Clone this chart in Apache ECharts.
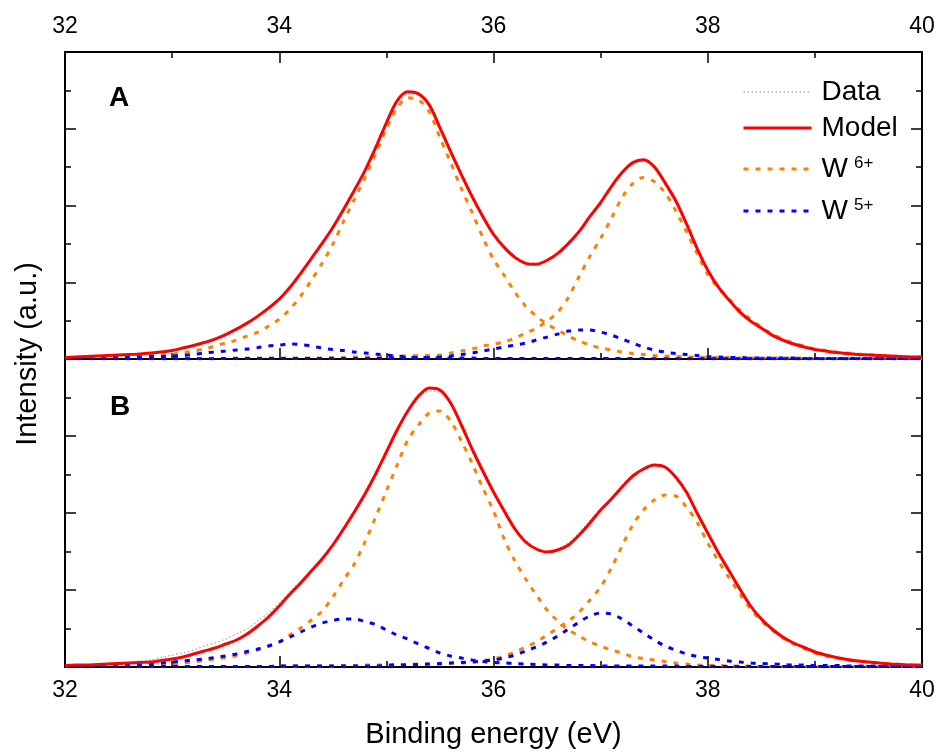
<!DOCTYPE html>
<html>
<head>
<meta charset="utf-8">
<script src="https://cdn.jsdelivr.net/npm/echarts@6/dist/echarts.min.js"></script>
<style>
html,body{margin:0;padding:0;background:#fff;}
#chart{width:941px;height:756px;}
</style>
</head>
<body>
<div id="chart"></div>
<script>
// ---------- data (binding energy in eV, intensity in arbitrary units) ----------
const energy = [
  32.0,32.1,32.2,32.3,32.4,32.5,32.6,32.7,32.8,32.9,
  33.0,33.1,33.2,33.3,33.4,33.5,33.6,33.7,33.8,33.9,
  34.0,34.1,34.2,34.3,34.4,34.5,34.6,34.7,34.8,34.9,
  35.0,35.1,35.2,35.3,35.4,35.5,35.6,35.7,35.8,35.9,
  36.0,36.1,36.2,36.3,36.4,36.5,36.6,36.7,36.8,36.9,
  37.0,37.1,37.2,37.3,37.4,37.5,37.6,37.7,37.8,37.9,
  38.0,38.1,38.2,38.3,38.4,38.5,38.6,38.7,38.8,38.9,
  39.0,39.1,39.2,39.3,39.4,39.5,39.6,39.7,39.8,39.9,
  40.0
];
const xTickLabels = [32, 34, 36, 38, 40];

// Panel A
const dataA = [
  1.5,2,2.5,3,3.5,4,4.5,5.5,6.5,7.5,
  9,11,14,17,21,25,30,36,43,51,
  60,71,85,100,116,133,151,170,190,213,
  236,257,266,265,254,230,207,185,164,144,
  126,113,103,97,96,99,106,117,129,144,
  158,173,186,196,199,193,178,160,137,112,
  90,73,60,48,39,31,25,20,16,12.5,
  10,8,7,6,5,4,3.5,3,2.5,2,
  2
];
const modelA = [
  1.5,2,2.5,3,3.5,4,4.5,5,6,7,
  8.5,11,13.5,16.5,20,24.5,30,36,43,51,
  60,72,86,101,116,132,150,169,189,212,
  237,259,268,266,255,232,208,185,163,143,
  125,112,102,96,95,99,106,116,128,143,
  157,173,187,197,200,193,177,159,136,111,
  89,72,59,47,38,31,24,19,15,12,
  9.5,8,6.5,5.5,4.5,4,3.5,3,2.5,2,
  2
];
const w6PeakA1 = [
  1,1,1.5,1.5,2,2,2.5,3,3.5,4,
  5,6,8,10,13,16,19,23,27,33,
  40,50,63,79,96,115,138,160,182,206,
  231,252,262,260,248,222,197,171,147,122,
  100,84,67,53,43,35,29,23,18,14,
  11,9,7,5.5,4.5,3.5,3,2.5,2,2,
  1.5,1.5,1.5,1,1,1,1,1,1,1,
  0.5,0.5,0.5,0.5,0.5,0.5,0.5,0.5,0.5,0.5,
  0.5
];
const w6PeakA2 = [
  0.5,0.5,0.5,0.5,0.5,0.5,0.5,0.5,0.5,0.5,
  0.5,0.5,0.5,0.5,0.5,0.5,1,1,1,1,
  1,1,1,1,1,1.5,1.5,2,2,2.5,
  2.5,3,3,3.5,3.5,4,6,8,10,13,
  15,17,21,26,31,38,47,62,83,103,
  121,141,162,176,182,178,167,149,128,106,
  85,71,60,49,40,32,25,20,16,13,
  10,8.5,7,6,5,4.5,3.5,3,2.5,2,
  2
];
const w5PeakA1 = [
  1,1,1,1.5,1.5,1.5,2,2,2.5,2.5,
  3,3.5,4.5,6,7,8,9,10,11.5,13,
  14,15,14.5,13,11,9.5,8.5,7,6,5,
  4,3,2,1.5,1.5,1,1,1,1,0.5,
  0.5,0.5,0.5,0.5,0.5,0.5,0.5,0.5,0.5,0.5,
  0.5,0.5,0.5,0.5,0.5,0.3,0.3,0.3,0.3,0.3,
  0.3,0.3,0.3,0.3,0.3,0.3,0.3,0.3,0.3,0.3,
  0.3,0.3,0.3,0.3,0.3,0.3,0.3,0.3,0.3,0.3,
  0.3
];
const w5PeakA2 = [
  0.3,0.3,0.3,0.3,0.3,0.3,0.3,0.3,0.3,0.3,
  0.3,0.3,0.3,0.3,0.3,0.5,0.5,0.5,0.5,0.5,
  0.5,0.5,0.5,0.5,0.5,0.5,0.5,0.5,0.5,0.5,
  0.5,1,1,1,1.5,2,3,4.5,6,8,
  10,12,14,16,19,22,25,28,29,29,
  27,24,20,16,12,9,7,5.5,4.5,3.5,
  2.5,2,1.5,1.5,1,1,1,1,1,0.5,
  0.5,0.5,0.5,0.5,0.5,0.5,0.5,0.5,0.5,0.5,
  0.5
];

// Panel B
const dataB = [
  2,2,2.5,3,3.5,4,5,6,7,9.5,
  12,14,17,21,24,28,33,38,46,54,
  64,75,86,97,109,123,139,156,174,194,
  216,237,255,269,276,275,263,243,220,198,
  177,158,140,127,119,116,118,124,134,146,
  158,169,181,191,198,201,199,190,176,155,
  135,115,97,79,62,49,39,31,25,20,
  16,13,10,8,6.5,5,4,3.5,3,2.5,
  2
];
const modelB = [
  1.5,2,2,2.5,3,3.5,4,4.5,5,6.5,
  8,10,13,16,19,23,27,33,41,50,
  61,73,84,96,108,122,138,155,173,193,
  215,237,256,271,279,277,264,242,218,196,
  175,156,138,125,118,115,117,122,132,144,
  157,168,180,191,198,202,200,190,175,154,
  134,114,96,78,61,48,38,30,24,19.5,
  15,12,9.5,7.5,6,5,4,3,2.5,2,
  2
];
const w6PeakB1 = [
  0.5,0.5,0.5,1,1,1,1.5,1.5,2,2.5,
  3,4,5,6.5,8,9.5,11,14,17,21,
  25,32,39,47,56,70,87,103,125,150,
  176,202,227,242,254,256,246,226,204,179,
  156,128,106,88,72,57,46,37,31,25,
  21,17,14,10,8.5,7,5.5,4,3,2,
  1.5,1.5,1,1,1,0.5,0.5,0.5,0.5,0.5,
  0.5,0.5,0.5,0.5,0.5,0.5,0.5,0.5,0.5,0.5,
  0.5
];
const w6PeakB2 = [
  0.5,0.5,0.5,0.5,0.5,0.5,0.5,0.5,0.5,0.5,
  0.5,0.5,0.5,0.5,0.5,0.5,0.5,0.5,0.5,0.5,
  1,1,1,1,1,1,1.5,1.5,2,2,
  2,2.5,2.5,3,3,3,3.5,4,5,6.5,
  8,11,15,20,25,32,39,46,55,67,
  80,99,121,142,157,167,172,171,160,145,
  124,106,89,73,58,46,37,29,23,18.5,
  14,11,9,7,6,5,4,3,2.5,2,
  2
];
const w5PeakB1 = [
  1,1,1.5,1.5,2,2,2.5,3,3.5,4,
  5,6,7,8,9.5,11,13,15.5,18,21,
  25,30,35,40,44,46.5,48,48,45.5,42.5,
  37,32,28,23,18.5,14,11,9,7,5.5,
  4.5,4,3.5,3,2.5,2,2,1.5,1.5,1.5,
  1,1,1,1,1,1,1,1,0.5,0.5,
  0.5,0.5,0.5,0.5,0.5,0.5,0.5,0.5,0.5,0.5,
  0.5,0.5,0.5,0.5,0.5,0.5,0.5,0.5,0.5,0.5,
  0.5
];
const w5PeakB2 = [
  0.5,0.5,0.5,0.5,0.5,0.5,0.5,0.5,0.5,0.5,
  0.5,0.5,0.5,0.5,0.5,0.5,0.5,0.5,0.5,0.5,
  1,1,1,1,1,1,1,1,1,1,
  1.5,2,2,2.5,3,3.5,4,4.5,5,6,
  7,9,12,16,20,25,31,38,45,51,
  54,53,48,41,34,27,21,17,13,10.5,
  9,7.5,6,5,4,3.5,3,2.5,2,2,
  1.5,1.5,1.5,1,1,1,1,1,0.5,0.5,
  0.5
];

const seriesNames = ['Data', 'Model', 'W6+', 'W5+'];
const panelLabels = ['A', 'B'];
const axisTitleX = 'Binding energy (eV)';
const axisTitleY = 'Intensity (a.u.)';

// ---------- chart ----------
const FONT = '"Liberation Sans", Arial, Helvetica, sans-serif';
const pairs = arr => energy.map((e, i) => [e, arr[i]]);
const chart = echarts.init(document.getElementById('chart'), null, {renderer: 'canvas'});

const tickStyle = {color: '#000', width: 1.5};
function xAxisDef(gridIndex, position, showLabel, margin, showTicks, extra) {
  return Object.assign({
    type: 'value', gridIndex: gridIndex, position: position,
    min: 32, max: 40, interval: 2,
    axisLine: {show: true, onZero: false, lineStyle: {color: '#000', width: 2}},
    axisTick: {show: showTicks, inside: true, length: 11, lineStyle: tickStyle},
    minorTick: {show: showTicks, splitNumber: 2, length: 6, lineStyle: tickStyle},
    splitLine: {show: false}, minorSplitLine: {show: false},
    axisLabel: {
      show: showLabel, margin: margin, fontSize: 23, fontFamily: FONT, color: '#000',
      formatter: v => (xTickLabels.indexOf(v) >= 0 ? String(v) : '')
    }
  }, extra || {});
}
function yAxisDef(gridIndex, position) {
  return {
    type: 'value', gridIndex: gridIndex, position: position,
    min: 0, max: 308, interval: 77,
    axisLine: {show: true, onZero: false, lineStyle: {color: '#000', width: 2}},
    axisTick: {show: true, inside: true, length: 11, lineStyle: tickStyle},
    minorTick: {show: true, splitNumber: 2, length: 6, lineStyle: tickStyle},
    splitLine: {show: false}, minorSplitLine: {show: false},
    axisLabel: {show: false}
  };
}

const COLORS = {Data: '#b0b0b0', Model: '#ff0000', 'W6+': '#ff8000', 'W5+': '#0000ff'};
function lineSeries(name, arr, xi, yi) {
  let lineStyle;
  if (name === 'Data') lineStyle = {color: COLORS.Data, width: 1.5, type: [1.5, 2.5]};
  else if (name === 'Model') lineStyle = {color: COLORS.Model, width: 3, type: 'solid'};
  else lineStyle = {color: COLORS[name], width: 3, type: [5, 7]};
  return {
    type: 'line', name: name, xAxisIndex: xi, yAxisIndex: yi,
    data: pairs(arr), showSymbol: false, symbol: 'none', smooth: 0.3,
    itemStyle: {color: COLORS[name]}, lineStyle: lineStyle,
    emphasis: {disabled: true}, silent: true
  };
}

const series = [
  lineSeries('Data', dataA, 1, 0),
  lineSeries('W6+', w6PeakA1, 1, 0),
  lineSeries('W6+', w6PeakA2, 1, 0),
  lineSeries('W5+', w5PeakA1, 1, 0),
  lineSeries('W5+', w5PeakA2, 1, 0),
  lineSeries('Model', modelA, 1, 0),
  lineSeries('Data', dataB, 2, 2),
  lineSeries('W6+', w6PeakB1, 2, 2),
  lineSeries('W6+', w6PeakB2, 2, 2),
  lineSeries('W5+', w5PeakB1, 2, 2),
  lineSeries('W5+', w5PeakB2, 2, 2),
  lineSeries('Model', modelB, 2, 2)
];

const legendBase = {
  orient: 'vertical', left: 742, padding: 0,
  itemWidth: 68, itemHeight: 14, selectedMode: false,
  itemStyle: {opacity: 0, borderWidth: 0},
  lineStyle: {width: 'inherit', type: 'inherit'},
  textStyle: {fontSize: 28, fontFamily: FONT, color: '#000', lineHeight: 30, padding: [0, 0, 0, 5],
    rich: {sup: {fontSize: 17, fontFamily: FONT, color: '#000', lineHeight: 16, padding: [0, 0, 12, 6]}}}
};

const option = {
  animation: false,
  backgroundColor: '#fff',
  grid: [
    {left: 65, right: 19, top: 52, height: 307},
    {left: 65, right: 19, top: 359, height: 308}
  ],
  xAxis: [
    xAxisDef(0, 'top', true, 14, true),
    xAxisDef(0, 'bottom', false, 8, true),
    xAxisDef(1, 'bottom', true, 12, true, {
      name: axisTitleX, nameLocation: 'middle', nameGap: 53,
      nameTextStyle: {fontSize: 29, fontFamily: FONT, color: '#000'}
    }),
    xAxisDef(1, 'top', false, 8, false)
  ],
  yAxis: [
    yAxisDef(0, 'left'), yAxisDef(0, 'right'),
    yAxisDef(1, 'left'), yAxisDef(1, 'right')
  ],
  legend: [
    Object.assign({}, legendBase, {data: seriesNames.slice(0, 2), top: 77, itemGap: 6}),
    Object.assign({}, legendBase, {
      data: seriesNames.slice(2), top: 154, itemGap: 12,
      formatter: n => n.charAt(0) + '{sup|' + n.slice(1) + '}'
    })
  ],
  graphic: [
    {type: 'text', x: 28, y: 354, rotation: Math.PI / 2, silent: true,
      style: {text: axisTitleY, fontSize: 29, fontFamily: FONT, fill: '#000', align: 'center', verticalAlign: 'middle'}},
    {type: 'text', x: 119, y: 98, silent: true,
      style: {text: panelLabels[0], fontSize: 28, fontWeight: 'bold', fontFamily: FONT, fill: '#000', align: 'center', verticalAlign: 'middle'}},
    {type: 'text', x: 120, y: 407, silent: true,
      style: {text: panelLabels[1], fontSize: 28, fontWeight: 'bold', fontFamily: FONT, fill: '#000', align: 'center', verticalAlign: 'middle'}}
  ],
  series: series
};
chart.setOption(option);
</script>
</body>
</html>
